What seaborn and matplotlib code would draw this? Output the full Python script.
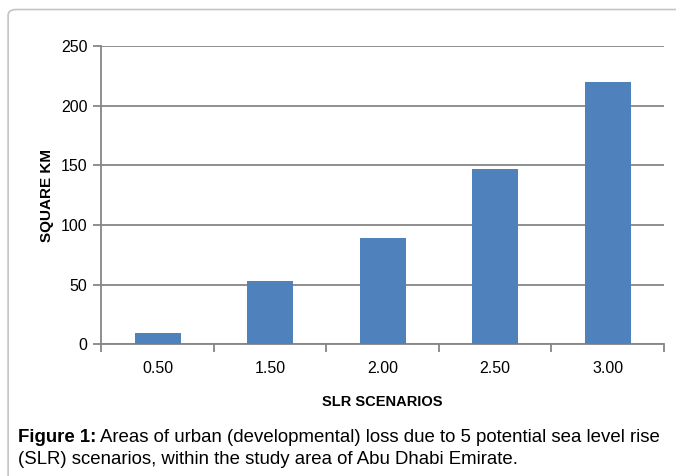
import matplotlib
matplotlib.use("Agg")
import matplotlib.pyplot as plt
from matplotlib.patches import FancyBboxPatch
import seaborn as sns
import pandas as pd

scenarios = ["0.50", "1.50", "2.00", "2.50", "3.00"]
loss_km2 = [9.5, 53, 89, 147, 220]
y_ticks = [0, 50, 100, 150, 200, 250]

bar_color = "#4F81BD"
grid_color = "#868686"

plt.rcParams['font.family'] = ['Liberation Sans', 'DejaVu Sans']

df = pd.DataFrame({"scenario": scenarios, "km2": loss_km2})

fig = plt.figure(figsize=(6.76, 4.76), dpi=100)
ax = fig.add_axes([0.150, 0.277, 0.832, 0.626])

# outer frame of the chart area
frame = FancyBboxPatch((0.012, -0.1), 1.2, 1.08, boxstyle="round,pad=0,rounding_size=0.012",
                       transform=fig.transFigure, fill=False, edgecolor="#c4c4c4", lw=1.2)
fig.patches.append(frame)

sns.barplot(data=df, x="scenario", y="km2", color=bar_color, width=0.41,
            saturation=1, ax=ax, zorder=3)

ax.set_ylim(0, 250)
ax.set_xlim(-0.5, 4.5)
ax.set_yticks(y_ticks)
ax.yaxis.grid(True, color=grid_color, lw=1.3, zorder=0)
ax.set_axisbelow(True)

# category ticks between bars, labels centred on bars
ax.set_xticks([i - 0.5 for i in range(len(scenarios) + 1)])
ax.set_xticklabels([])
ax.set_xticks(range(len(scenarios)), minor=True)
ax.set_xticklabels(scenarios, minor=True)
ax.tick_params(axis="x", which="major", length=6, width=1.3, color=grid_color)
ax.tick_params(axis="x", which="minor", length=0, pad=12, labelsize=11.5)
ax.tick_params(axis="y", length=6, width=1.3, color=grid_color, labelsize=11.5, pad=4)

for s in ["top", "right"]:
    ax.spines[s].set_visible(False)
for s in ["left", "bottom"]:
    ax.spines[s].set_color(grid_color)
    ax.spines[s].set_linewidth(1.3)

ax.set_xlabel("SLR SCENARIOS", fontsize=10.5, fontweight="bold", labelpad=14)
ax.set_ylabel("SQUARE KM", fontsize=11, fontweight="bold", labelpad=5)

# caption with bold lead-in
fig.canvas.draw()
r = fig.canvas.get_renderer()
t1 = fig.text(18 / 676, 1 - 437 / 476, "Figure 1:", fontsize=13.4, fontweight="bold", va="center")
bb = t1.get_window_extent(r)
fig.text((bb.x1 + 4) / 676, 1 - 437 / 476, "Areas of urban (developmental) loss due to 5 potential sea level rise",
         fontsize=13.4, va="center")
fig.text(18 / 676, 1 - 460 / 476, "(SLR) scenarios, within the study area of Abu Dhabi Emirate.",
         fontsize=13.4, va="center")

fig.savefig("out.png", dpi=100)
